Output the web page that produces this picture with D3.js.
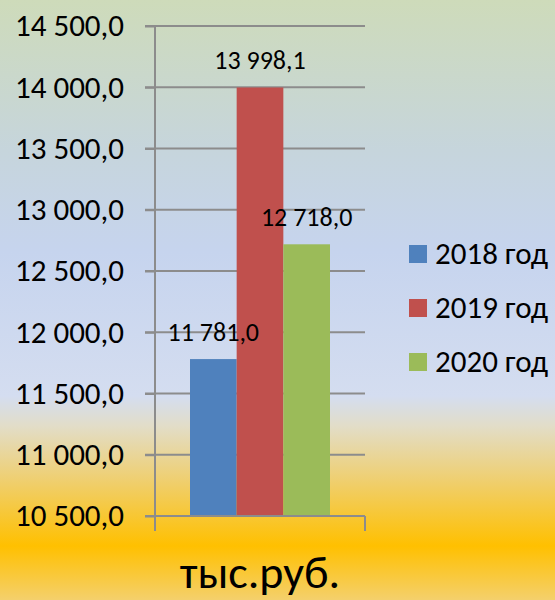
<!DOCTYPE html>
<html><head><meta charset="utf-8">
<script src="https://cdn.jsdelivr.net/npm/d3@7"></script>
<style>body{margin:0;}svg{display:block;}</style>
</head><body>
<script>
const categories = ["2018 год", "2019 год", "2020 год"];
const values = [11781.0, 13998.1, 12718.0];
const colors = ["#4f81bd", "#c0504d", "#9bbb59"];
const yTicks = [10500, 11000, 11500, 12000, 12500, 13000, 13500, 14000, 14500];
const unitLabel = "тыс.руб.";

const W = 555, H = 600;
const font = "Carlito, Calibri, Lato, 'Open Sans', sans-serif";
const fmt = v => d3.format(",.1f")(v).replace(/,/g, " ").replace(".", ",");

const svg = d3.select("body").append("svg").attr("width", W).attr("height", H);
const defs = svg.append("defs");
const grad = defs.append("linearGradient").attr("id", "bg").attr("x1", 0).attr("y1", 0).attr("x2", 0).attr("y2", 1);
[[0, "#cedbba"], [0.25, "#c6d5dc"], [0.42, "#c6d4ee"], [0.66, "#d4ddf0"], [0.71, "#e2ddc8"], [0.8, "#efcf70"], [0.91, "#ffc000"], [1, "#f4d06c"]]
  .forEach(([o, c]) => grad.append("stop").attr("offset", o).attr("stop-color", c));
svg.append("rect").attr("width", W).attr("height", H).attr("fill", "url(#bg)");

const x0 = 155, x1 = 365, yTop = 26, yBot = 516;
const y = d3.scaleLinear().domain([10500, 14500]).range([yBot, yTop]);
const x = d3.scaleBand().domain(categories).range([190, 330]).padding(0);

// gridlines
svg.append("g").selectAll("line").data(yTicks).join("line")
  .attr("x1", x0 - 10).attr("x2", x1).attr("y1", d => y(d)).attr("y2", d => y(d))
  .attr("stroke", "#8c8c8c").attr("stroke-width", 2);

// bars
svg.append("g").selectAll("rect").data(values).join("rect")
  .attr("x", (d, i) => x(categories[i])).attr("width", x.bandwidth())
  .attr("y", d => y(d)).attr("height", d => yBot - y(d))
  .attr("fill", (d, i) => colors[i]);

// y axis
const yAxis = d3.axisLeft(y).tickValues(yTicks).tickFormat(fmt).tickSize(10).tickPadding(21);
const gy = svg.append("g").attr("transform", `translate(${x0},0)`).call(yAxis);
gy.select(".domain").attr("d", `M0,${yTop}V${yBot + 15}`).attr("stroke", "#8c8c8c").attr("stroke-width", 2);
gy.selectAll(".tick line").attr("stroke", "#8c8c8c").attr("stroke-width", 2);
gy.selectAll(".tick text").attr("font-family", font).attr("font-size", 31).attr("fill", "#000");

// x axis baseline
svg.append("line").attr("x1", x0 - 10).attr("x2", x1).attr("y1", yBot).attr("y2", yBot).attr("stroke", "#8c8c8c").attr("stroke-width", 2);
svg.append("line").attr("x1", x1).attr("x2", x1).attr("y1", yBot).attr("y2", yBot + 15).attr("stroke", "#8c8c8c").attr("stroke-width", 2);

// data labels
svg.append("g").selectAll("text").data(values).join("text")
  .attr("x", (d, i) => x(categories[i]) + x.bandwidth() / 2)
  .attr("y", d => y(d) - 18)
  .attr("text-anchor", "middle").attr("font-family", font).attr("font-size", 26).attr("fill", "#000")
  .text(d => fmt(d));

// legend
const lg = svg.append("g").selectAll("g").data(categories).join("g")
  .attr("transform", (d, i) => `translate(409,${254 + i * 54})`);
lg.append("rect").attr("x", 0).attr("y", -9).attr("width", 18).attr("height", 18).attr("fill", (d, i) => colors[i]);
lg.append("text").attr("x", 26).attr("y", 10).attr("font-family", font).attr("font-size", 31).attr("fill", "#000").text(d => d);

// unit label
svg.append("text").attr("x", 260).attr("y", 588).attr("text-anchor", "middle")
  .attr("font-family", font).attr("font-size", 46).attr("fill", "#000").text(unitLabel);
</script>
</body></html>
